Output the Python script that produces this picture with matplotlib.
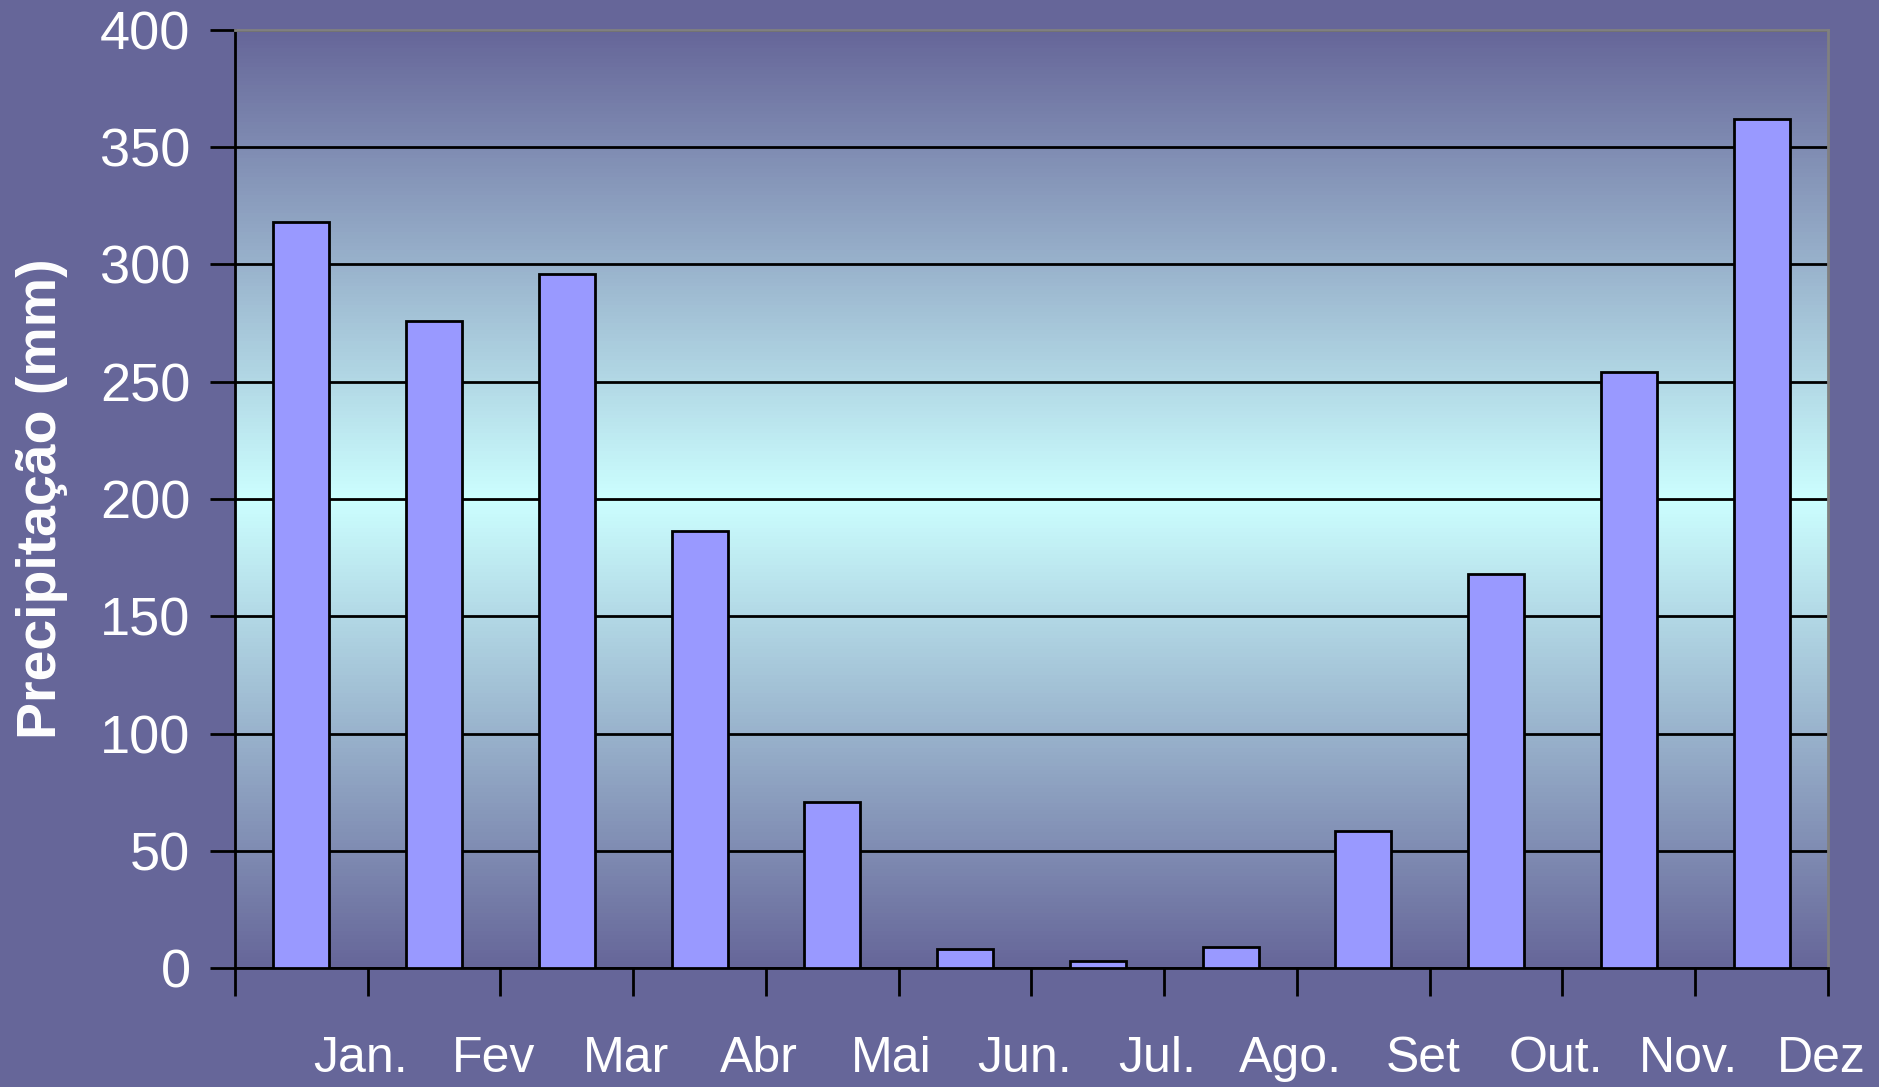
import matplotlib
matplotlib.use("Agg")
import matplotlib.pyplot as plt
import matplotlib.transforms as mtransforms
import numpy as np
from matplotlib.colors import LinearSegmentedColormap

meses = ['Jan.', 'Fev', 'Mar', 'Abr', 'Mai', 'Jun.', 'Jul.', 'Ago.', 'Set', 'Out.', 'Nov.', 'Dez']
precip = [318, 276, 296, 186.5, 71, 8, 3, 9, 58.5, 168, 254, 362]
yticks = [0, 50, 100, 150, 200, 250, 300, 350, 400]

bg = '#666699'
plt.rcParams['font.family'] = ['Liberation Sans', 'DejaVu Sans']

fig = plt.figure(figsize=(18.79, 10.87), dpi=100, facecolor=bg)
ax = fig.add_axes([235/1879, 1 - 968/1087, (1828-235)/1879, (968-30)/1087])

# fundo em degrade: escuro em cima e em baixo, ciano claro no meio
cmap = LinearSegmentedColormap.from_list('g', [bg, '#ccffff'])
grad = 1 - np.abs(np.linspace(-1, 1, 256))[:, None]
ax.imshow(grad, aspect='auto', cmap=cmap, extent=[-0.5, 11.5, 0, 400],
          origin='lower', zorder=0, vmin=0, vmax=1)

x = np.arange(len(meses))
ax.bar(x, precip, width=0.42, color='#9999ff', edgecolor='black', linewidth=2, zorder=3)

ax.set_xlim(-0.5, 11.5)
ax.set_ylim(0, 400)
ax.set_yticks(yticks)
ax.yaxis.grid(True, color='black', linewidth=2)
for gl in ax.get_ygridlines():
    gl.set_zorder(1)

ax.set_xticks(np.arange(-0.5, 12, 1))
ax.set_xticklabels([''] + meses)
ax.tick_params(axis='x', length=20, width=2, color='black', pad=29,
               labelsize=36, labelcolor='white', direction='out')
ax.tick_params(axis='y', length=18, width=2, color='black', pad=14,
               labelsize=39, labelcolor='white', direction='out')
off = mtransforms.ScaledTranslation(-0.07, 0, fig.dpi_scale_trans)
for lab in ax.get_xticklabels():
    lab.set_transform(lab.get_transform() + off)

for s in ['left', 'bottom']:
    ax.spines[s].set_color('black')
    ax.spines[s].set_linewidth(2)
for s in ['top', 'right']:
    ax.spines[s].set_color('#808080')
    ax.spines[s].set_linewidth(2)

ax.set_ylabel('Precipitação (mm)', fontsize=40, fontweight='bold', color='white')
ax.yaxis.set_label_coords(-0.105, 0.5)

plt.savefig('out.png', dpi=100, facecolor=bg)
